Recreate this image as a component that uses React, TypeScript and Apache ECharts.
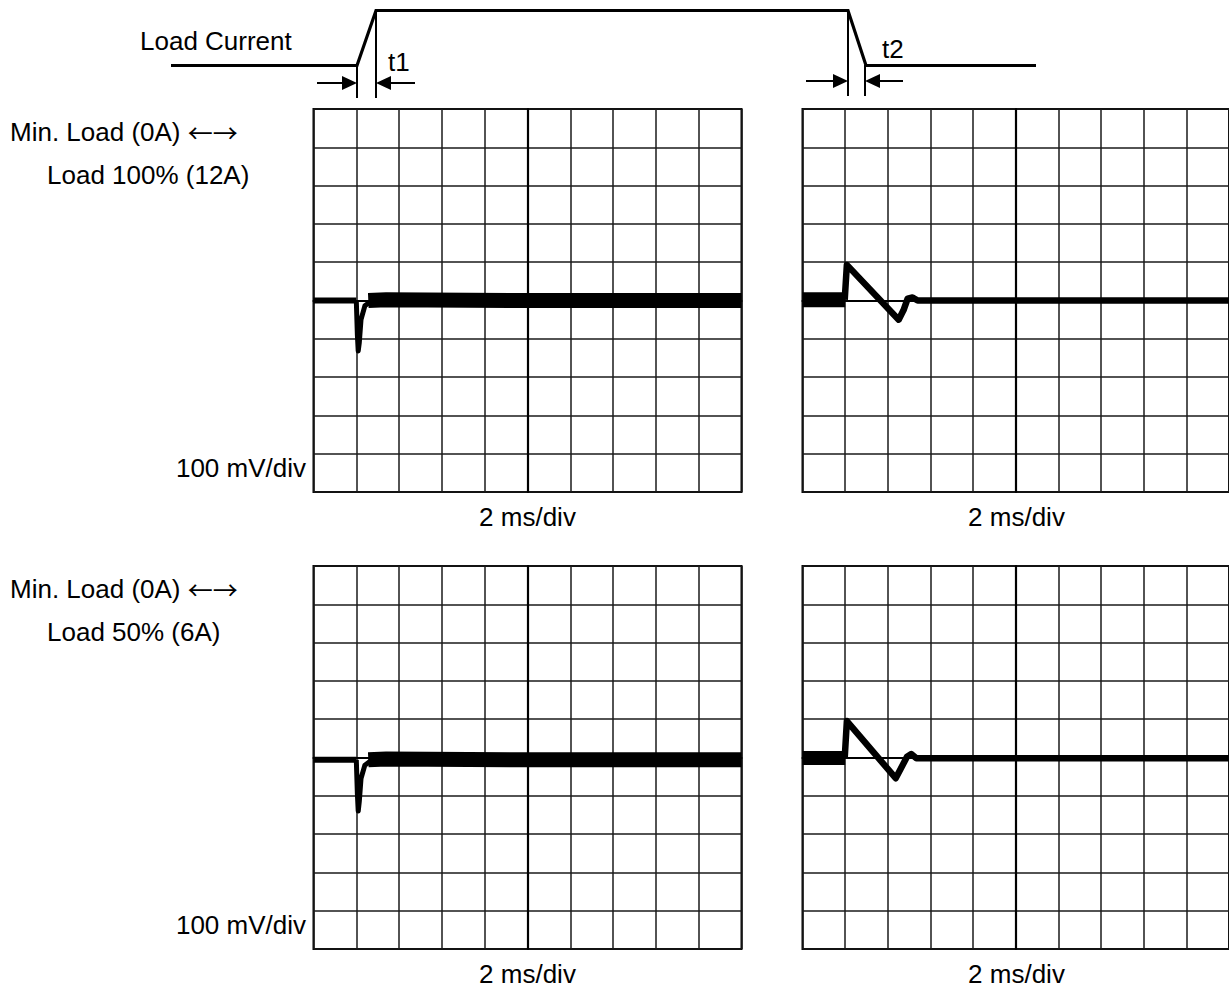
import React, { useEffect, useRef } from "react";
import * as echarts from "echarts";

// ---- Data (x in divisions from screen centre, y in divisions) ----
const xRange = [-5, 5];
const yRange = [-5, 5];
const divInterval = 1;

// Top-left: Min. Load (0A) -> Load 100% (12A), load step up
const tlBefore = [[-5, 0.0], [-4.0, 0.0]];
const tlSpike = [[-4.0, 0.0], [-3.975, -0.9], [-3.955, -1.32], [-3.93, -1.1], [-3.89, -0.5], [-3.8, -0.14], [-3.63, 0.0]];
const tlAfter = [[-3.72, 0.0], [-3.3, 0.02], [0, 0.0], [2.5, 0.0], [5, 0.0]];

// Top-right: Load 100% -> Min. Load, load step down
const trBefore = [[-5, 0.02], [-4.0, 0.02]];
const trAfter = [[-4.01, 0.02], [-3.96, 0.93], [-2.745, -0.5], [-2.63, -0.25], [-2.535, 0.05], [-2.42, 0.08], [-2.3, 0.0], [5, 0.0]];

// Bottom-left: Min. Load (0A) -> Load 50% (6A)
const blBefore = [[-5, -0.06], [-4.0, -0.06]];
const blSpike = [[-4.0, -0.06], [-3.975, -0.95], [-3.955, -1.4], [-3.93, -1.15], [-3.89, -0.55], [-3.8, -0.2], [-3.63, -0.06]];
const blAfter = [[-3.72, -0.06], [-3.3, -0.04], [0, -0.06], [2.5, -0.06], [5, -0.06]];

// Bottom-right: Load 50% -> Min. Load
const brBefore = [[-5, -0.01], [-4.0, -0.01]];
const brAfter = [[-4.01, -0.01], [-3.96, 0.95], [-2.815, -0.54], [-2.7, -0.3], [-2.55, 0.02], [-2.45, 0.09], [-2.33, -0.02], [5, -0.02]];

const loadLabels = ["Min. Load (0A) {arr|\u2190\u2192}", "Load 100% (12A)", "Load 50% (6A)"];
const voltLabel = "100 mV/div";
const timeLabel = "2 ms/div";

const FONT = "'Liberation Sans', Arial, sans-serif";
const FS = 26;

const panels = [
  { left: 313.5, top: 109 },
  { left: 802.5, top: 109 },
  { left: 313.5, top: 566 },
  { left: 802.5, top: 566 },
];
const PW = 428;
const PH = 383;

function buildOption() {
  const grid = panels.map((p) => ({
    left: p.left,
    top: p.top,
    width: PW,
    height: PH,
    show: true,
    borderColor: "#000",
    borderWidth: 2,
    backgroundColor: "transparent",
  }));
  const axisCommon = {
    type: "value",
    min: xRange[0],
    max: xRange[1],
    interval: divInterval,
    axisLabel: { show: false },
    axisTick: { show: false },
    axisLine: { show: true, onZero: true, lineStyle: { color: "#000", width: 2.2 } },
    splitLine: { show: true, lineStyle: { color: "#1a1a1a", width: 1.5 } },
  };
  const xAxis = panels.map((_, i) => ({ ...axisCommon, gridIndex: i }));
  const yAxis = panels.map((_, i) => ({ ...axisCommon, min: yRange[0], max: yRange[1], gridIndex: i }));

  const mk = (data: number[][], idx: number, width: number) => ({
    type: "line",
    xAxisIndex: idx,
    yAxisIndex: idx,
    data,
    showSymbol: false,
    symbol: "none",
    clip: true,
    lineStyle: { color: "#000", width, cap: "butt", join: "round" },
    silent: true,
    z: 5,
  });

  const series = [
    mk(tlBefore, 0, 6),
    mk(tlSpike, 0, 5),
    mk(tlAfter, 0, 15),
    mk(trBefore, 1, 15),
    mk(trAfter, 1, 6.5),
    mk(blBefore, 2, 6),
    mk(blSpike, 2, 5),
    mk(blAfter, 2, 15),
    mk(brBefore, 3, 14),
    mk(brAfter, 3, 6.5),
  ];

  const txt = (text: string, x: number, y: number, align = "left") => ({
    type: "text",
    x,
    y,
    style: {
      text,
      fill: "#000",
      font: `${FS}px ${FONT}`,
      fontFamily: FONT,
      fontSize: FS,
      align,
      verticalAlign: "middle",
      rich: {
        arr: { fontFamily: "'Noto Sans CJK JP', 'DejaVu Sans', sans-serif", fontSize: 25, fill: "#000", color: "#000" },
      },
    },
  });

  const ln = (x1: number, y1: number, x2: number, y2: number, w = 2) => ({
    type: "line",
    shape: { x1, y1, x2, y2 },
    style: { stroke: "#000", lineWidth: w },
  });
  const head = (tipX: number, y: number, dir: number) => ({
    type: "polygon",
    shape: { points: [[tipX - dir * 15, y - 7], [tipX, y], [tipX - dir * 15, y + 7]] },
    style: { fill: "#000" },
  });

  const graphic = [
    {
      type: "polyline",
      shape: { points: [[171, 65.5], [357, 65.5], [376, 10.5], [848, 10.5], [866, 65.5], [1036, 65.5]] },
      style: { stroke: "#000", lineWidth: 3.2, fill: null },
    },
    ln(357, 65, 357, 98),
    ln(376, 10, 376, 98),
    ln(848, 10, 848, 96),
    ln(865, 65, 865, 96),
    ln(317, 83, 345, 83),
    head(357, 83, 1),
    ln(389, 83, 415, 83),
    head(376, 83, -1),
    ln(806, 81, 836, 81),
    head(848, 81, 1),
    ln(877, 81, 903, 81),
    head(865, 81, -1),
    txt("Load Current", 140, 41),
    txt("t1", 388, 62),
    txt("t2", 882, 49),
    txt(loadLabels[0], 10, 132),
    txt(loadLabels[1], 47, 175),
    txt(voltLabel, 306, 468, "right"),
    txt(timeLabel, 527.5, 517, "center"),
    txt(timeLabel, 1016.5, 517, "center"),
    txt(loadLabels[0], 10, 589),
    txt(loadLabels[2], 47, 632),
    txt(voltLabel, 306, 925, "right"),
    txt(timeLabel, 527.5, 974, "center"),
    txt(timeLabel, 1016.5, 974, "center"),
  ];

  return {
    animation: false,
    backgroundColor: "#fff",
    grid,
    xAxis,
    yAxis,
    series,
    graphic,
  };
}

export default function App() {
  const ref = useRef<HTMLDivElement>(null);
  useEffect(() => {
    if (!ref.current) return;
    const chart = echarts.init(ref.current, null, { renderer: "svg" });
    chart.setOption(buildOption() as any);
    return () => chart.dispose();
  }, []);
  return (
    <div
      ref={ref}
      style={{ position: "absolute", left: 0, top: 0, width: 1229, height: 994, background: "#fff" }}
    />
  );
}
